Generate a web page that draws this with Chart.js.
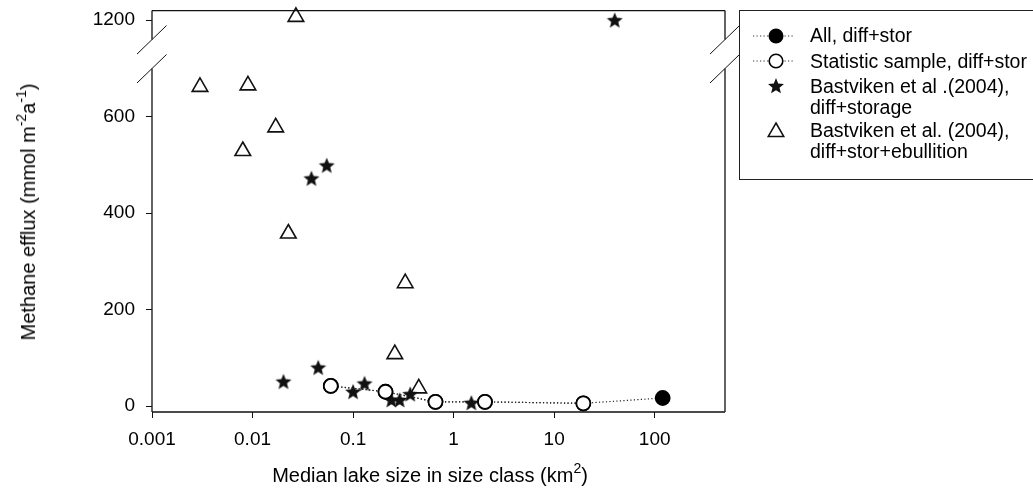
<!DOCTYPE html>
<html>
<head>
<meta charset="utf-8">
<script src="https://cdn.jsdelivr.net/npm/chart.js@4.4.1/dist/chart.umd.min.js"></script>
<style>
  html, body { margin: 0; padding: 0; background: #fff; }
  #wrap { position: relative; width: 1033px; height: 497px; overflow: hidden;
          font-family: "Liberation Sans", Arial, sans-serif; color: #000; }
  #chart { position: absolute; left: 0; top: 0; }
  .ttl { position: absolute; font-size: 20px; white-space: nowrap; line-height: 24px; }
  .ttl sup { font-size: 14px; vertical-align: 9px; line-height: 0; }
  #ytitle { left: 28px; top: 212px; transform: translate(-50%, -50%) rotate(-90deg); }
  #xtitle { left: 430px; top: 475px; transform: translate(-50%, -50%); }
  #legend { position: absolute; left: 739px; top: 10px; width: 330px; height: 168px;
            border: 1px solid #222; }
  #legend .row { position: absolute; left: 70px; font-size: 19.5px; line-height: 21px; white-space: nowrap; }
  #legend svg { position: absolute; left: 12px; }
</style>
</head>
<body>
<div id="wrap">
  <canvas id="chart" width="1033" height="497"></canvas>
  <div class="ttl" id="ytitle">Methane efflux (mmol m<sup>-2</sup>a<sup>-1</sup>)</div>
  <div class="ttl" id="xtitle">Median lake size in size class (km<sup>2</sup>)</div>
  <div id="legend"></div>
</div>
<script>
// size classes (km2) and methane efflux (mmol m-2 a-1)
const allX = [0.06, 0.21, 0.66, 2.05, 19.5, 120];
const allY = [42, 30, 9, 9, 6, 17];

const sampleX = [0.06, 0.21, 0.66, 2.05, 19.5];
const sampleY = [42, 30, 9, 9, 6];

// Bastviken et al. (2004), diff+storage
const storX = [0.0203, 0.0385, 0.045, 0.0547, 0.1, 0.13, 0.24, 0.29, 0.37, 1.5, 40];
const storY = [51, 472, 80, 499, 30, 47, 13, 13, 25, 7, 1200];

// Bastviken et al. (2004), diff+stor+ebullition
const ebulX = [0.003, 0.008, 0.009, 0.017, 0.0227, 0.027, 0.26, 0.33, 0.45];
const ebulY = [662, 529, 665, 578, 358, 1207, 108, 255, 37];

const xTicks = [0.001, 0.01, 0.1, 1, 10, 100];
const yTicks = [0, 200, 400, 600, 1200];

const seriesLabels = [
  ['All, diff+stor'],
  ['Statistic sample, diff+stor'],
  ['Bastviken et al .(2004),', 'diff+storage'],
  ['Bastviken et al. (2004),', 'diff+stor+ebullition']
];

// y axis break
const brkFrom = 700, brkTo = 1160, brkGap = 60;

class BrokenLinearScale extends Chart.LinearScale {
  static id = 'brokenLinear';
  static defaults = Chart.LinearScale.defaults;
  _units(v) {
    const low = brkFrom - this.min;
    if (v <= brkFrom) return v - this.min;
    if (v >= brkTo) return low + brkGap + (v - brkTo);
    return low + brkGap * (v - brkFrom) / (brkTo - brkFrom);
  }
  getPixelForValue(value) {
    if (value === null || isNaN(value)) return NaN;
    return this.getPixelForDecimal(this._units(value) / this._units(this.max));
  }
  getValueForPixel(pixel) {
    const u = this.getDecimalForPixel(pixel) * this._units(this.max);
    const low = brkFrom - this.min;
    if (u <= low) return this.min + u;
    if (u >= low + brkGap) return brkTo + (u - low - brkGap);
    return brkFrom + (u - low) / brkGap * (brkTo - brkFrom);
  }
}
Chart.register(BrokenLinearScale);

function starPoints(cx, cy, R, r) {
  const pts = [];
  for (let i = 0; i < 10; i++) {
    const a = -Math.PI / 2 + i * Math.PI / 5;
    const rad = i % 2 ? r : R;
    pts.push([cx + rad * Math.cos(a), cy + rad * Math.sin(a)]);
  }
  return pts;
}

// filled star marker
const starImg = document.createElement('canvas');
starImg.width = 18; starImg.height = 18;
(function () {
  const c = starImg.getContext('2d');
  c.fillStyle = '#111';
  c.beginPath();
  starPoints(9, 9.6, 8.4, 3.7).forEach((p, i) => i ? c.lineTo(p[0], p[1]) : c.moveTo(p[0], p[1]));
  c.closePath();
  c.fill();
})();

const pts = (xs, ys) => xs.map((x, i) => ({x: x, y: ys[i]}));

// frame with axis break
const framePlugin = {
  id: 'frame',
  beforeDatasetsDraw(chart) {
    const ctx = chart.ctx, a = chart.chartArea;
    const y = chart.scales.y;
    const g1 = y.getPixelForValue(brkTo), g2 = y.getPixelForValue(brkFrom);
    ctx.save();
    ctx.strokeStyle = '#111';
    ctx.lineWidth = 1.3;
    ctx.beginPath();
    ctx.moveTo(a.left, a.top); ctx.lineTo(a.right, a.top);
    ctx.moveTo(a.left, a.bottom); ctx.lineTo(a.right, a.bottom);
    [a.left, a.right].forEach(x => {
      ctx.moveTo(x, a.top); ctx.lineTo(x, g1);
      ctx.moveTo(x, g2); ctx.lineTo(x, a.bottom);
    });
    ctx.stroke();
    ctx.lineWidth = 1;
    ctx.beginPath();
    [a.left, a.right].forEach(x => [g1, g2].forEach(gy => {
      ctx.moveTo(x - 15, gy + 14.5);
      ctx.lineTo(x + 14.5, gy - 14);
    }));
    ctx.stroke();
    ctx.restore();
  }
};

Chart.defaults.font.family = '"Liberation Sans", Arial, sans-serif';
Chart.defaults.font.size = 19;
Chart.defaults.color = '#000';

new Chart(document.getElementById('chart'), {
  type: 'scatter',
  data: {
    datasets: [
      {
        label: seriesLabels[1].join(' '),
        data: pts(sampleX, sampleY),
        showLine: true, borderColor: '#222', borderWidth: 1.2, borderDash: [1.2, 2.3],
        pointStyle: 'circle', pointRadius: 7, pointBorderWidth: 1.8,
        pointBackgroundColor: '#fff', pointBorderColor: '#000',
        order: 0, clip: false
      },
      {
        label: seriesLabels[2].join(' '),
        data: pts(storX, storY),
        pointStyle: starImg, pointRadius: 8,
        order: 1, clip: false
      },
      {
        label: seriesLabels[3].join(' '),
        data: pts(ebulX, ebulY),
        pointStyle: 'triangle', pointRadius: 9, pointBorderWidth: 1.6,
        pointBackgroundColor: 'rgba(255,255,255,0)', pointBorderColor: '#111',
        order: 2, clip: false
      },
      {
        label: seriesLabels[0].join(' '),
        data: pts(allX, allY),
        showLine: true, borderColor: '#222', borderWidth: 1.2, borderDash: [1.2, 2.3],
        pointStyle: 'circle', pointRadius: 7, pointBorderWidth: 1.8,
        pointBackgroundColor: '#000', pointBorderColor: '#000',
        order: 3, clip: false
      }
    ]
  },
  options: {
    responsive: false,
    animation: false,
    layout: { padding: { top: 10.5, right: 308, left: 0, bottom: 0 } },
    plugins: { legend: { display: false }, tooltip: { enabled: false } },
    scales: {
      x: {
        type: 'logarithmic', min: 0.001, max: 500, bounds: 'data',
        afterBuildTicks: s => { s.ticks = xTicks.map(v => ({value: v})); },
        afterFit: s => { s.height = 85; s.paddingLeft = 0; s.paddingRight = 0; },
        border: { display: false },
        grid: { drawOnChartArea: false, tickLength: 6, color: '#111' },
        ticks: { padding: 10, maxRotation: 0, autoSkip: false, callback: v => String(v) }
      },
      y: {
        type: 'brokenLinear', min: -12, max: 1220, bounds: 'data',
        afterBuildTicks: s => { s.ticks = yTicks.map(v => ({value: v})); },
        afterFit: s => { s.width = 152; s.paddingTop = 0; s.paddingBottom = 0; },
        border: { display: false },
        grid: { drawOnChartArea: false, tickLength: 6, color: '#111' },
        ticks: { padding: 11, autoSkip: false, callback: v => String(v) }
      }
    }
  },
  plugins: [framePlugin]
});

// legend box
(function () {
  const box = document.getElementById('legend');
  const rowTops = [14, 39.5, 64.5, 109];
  const markers = [
    '<circle cx="24" cy="10" r="7.5" fill="#000"/>',
    '<circle cx="24" cy="10" r="6.8" fill="#fff" stroke="#000" stroke-width="1.6"/>',
    '<polygon fill="#111" points="' + starPoints(24, 10.5, 8.4, 3.7).map(p => p.join(',')).join(' ') + '"/>',
    '<polygon fill="none" stroke="#111" stroke-width="1.5" points="' +
      [[24, 2], [31.8, 15.5], [16.2, 15.5]].map(p => p.join(',')).join(' ') + '"/>'
  ];
  const dotted = '<line x1="1" y1="10" x2="41" y2="10" stroke="#333" stroke-width="1.1" stroke-dasharray="1.2 2.3"/>';
  seriesLabels.forEach((lab, i) => {
    const row = document.createElement('div');
    row.className = 'row';
    row.style.top = rowTops[i] + 'px';
    row.innerHTML = lab.join('<br>');
    box.appendChild(row);
    const svg = document.createElementNS('http://www.w3.org/2000/svg', 'svg');
    svg.setAttribute('width', '48');
    svg.setAttribute('height', '20');
    svg.style.top = (rowTops[i] + 0.5) + 'px';
    svg.innerHTML = (i < 2 ? dotted : '') + markers[i];
    box.appendChild(svg);
  });
})();
</script>
</body>
</html>
